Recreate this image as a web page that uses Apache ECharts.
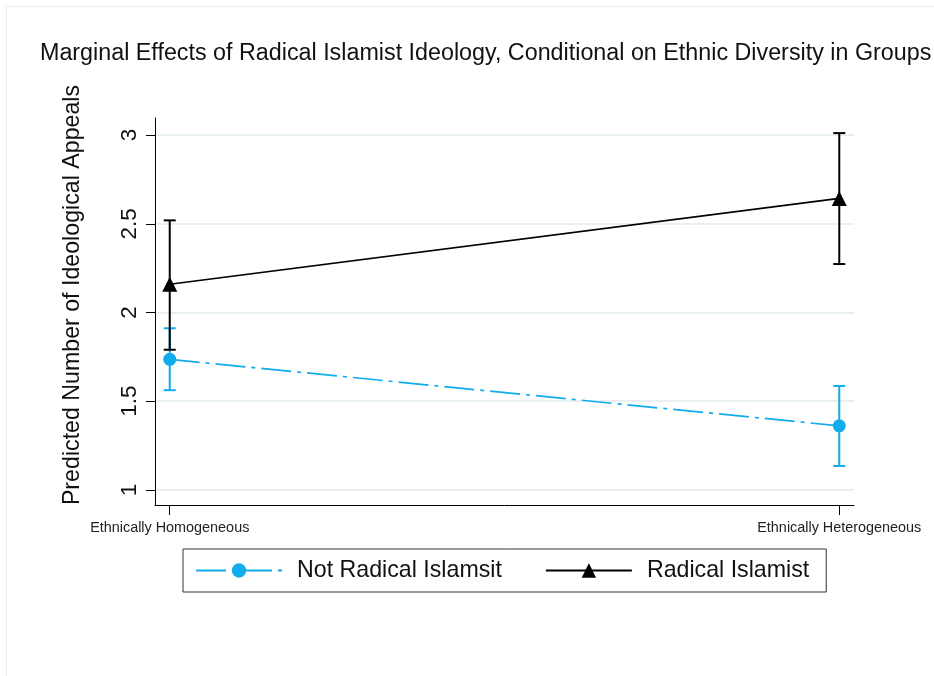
<!DOCTYPE html>
<html>
<head>
<meta charset="utf-8">
<script src="https://cdn.jsdelivr.net/npm/echarts@6/dist/echarts.min.js"></script>
<style>
html,body{margin:0;padding:0;background:#fff;}
#chart{width:934px;height:676px;}
</style>
</head>
<body>
<div id="chart"></div>
<script>
// Data
var categories = ['Ethnically Homogeneous', 'Ethnically Heterogeneous'];
var seriesNames = ['Not Radical Islamsit', 'Radical Islamist'];
var notRadical = [1.736, 1.361];
var notRadicalLo = [1.562, 1.135];
var notRadicalHi = [1.911, 1.586];
var radical = [2.159, 2.643];
var radicalLo = [1.790, 2.273];
var radicalHi = [2.519, 3.011];
var yTicks = [1, 1.5, 2, 2.5, 3];

var BLUE = '#10acec';
var BLACK = '#000000';
var FONT = "'Liberation Sans', Arial, sans-serif";

function pts(vals) { return vals.map(function (v, i) { return [i, v]; }); }
function bars(lo, hi) { return lo.map(function (v, i) { return [i, v, hi[i]]; }); }

function errRender(color) {
  return function (params, api) {
    var x = api.value(0);
    var a = api.coord([x, api.value(1)]);
    var b = api.coord([x, api.value(2)]);
    var w = 6;
    var st = { stroke: color, lineWidth: 2 };
    return {
      type: 'group',
      children: [
        { type: 'line', shape: { x1: a[0], y1: a[1], x2: b[0], y2: b[1] }, style: st },
        { type: 'line', shape: { x1: a[0] - w, y1: a[1], x2: a[0] + w, y2: a[1] }, style: st },
        { type: 'line', shape: { x1: b[0] - w, y1: b[1], x2: b[0] + w, y2: b[1] }, style: st }
      ]
    };
  };
}

var chart = echarts.init(document.getElementById('chart'), null, { renderer: 'canvas' });
chart.setOption({
  backgroundColor: '#ffffff',
  animation: false,
  title: {
    text: 'Marginal Effects of Radical Islamist Ideology, Conditional on Ethnic Diversity in Groups',
    left: 40,
    top: 42,
    padding: 0,
    textStyle: { fontFamily: FONT, fontSize: 23.3, fontWeight: 'normal', color: '#111' }
  },
  graphic: [
    {
      type: 'rect', silent: true, z: -10,
      shape: { x: 6.5, y: 6.5, width: 1000, height: 1000 },
      style: { fill: 'none', stroke: '#e6eef1', lineWidth: 1 }
    },
    {
      type: 'text', x: 73, y: 295, rotation: Math.PI / 2,
      style: {
        text: 'Predicted Number of Ideological Appeals',
        fontFamily: FONT, fontSize: 23.2, fill: '#111',
        align: 'center', verticalAlign: 'middle'
      }
    }
  ],
  legend: {
    left: 183,
    top: 549,
    orient: 'horizontal',
    borderColor: '#333',
    borderWidth: 1,
    padding: [9, 17, 9, 12],
    itemGap: 43,
    itemWidth: 86,
    itemHeight: 18,
    data: seriesNames,
    textStyle: { fontFamily: FONT, fontSize: 23.2, color: '#111', padding: [0, 0, 0, 10], lineHeight: 25 }
  },
  grid: { left: 155, right: 80, top: 118, bottom: 171 },
  xAxis: {
    type: 'value',
    min: -0.022,
    max: 1.022,
    axisLine: { show: true, onZero: false, lineStyle: { color: '#000', width: 1 } },
    axisTick: { show: true, length: 10, customValues: [0, 1], lineStyle: { color: '#000', width: 1 } },
    axisLabel: {
      customValues: [0, 1],
      margin: 16,
      fontFamily: FONT, fontSize: 14.4, color: '#222',
      formatter: function (v) { return categories[Math.round(v)]; }
    },
    splitLine: { show: false }
  },
  yAxis: {
    type: 'value',
    min: 0.915,
    max: 3.096,
    axisLine: { show: true, onZero: false, lineStyle: { color: '#000', width: 1 } },
    axisTick: { show: true, length: 9, customValues: yTicks, lineStyle: { color: '#000', width: 1 } },
    axisLabel: {
      customValues: yTicks,
      rotate: 90,
      margin: 14,
      fontFamily: FONT, fontSize: 22.5, color: '#111',
      formatter: function (v) { return String(v); }
    },
    splitLine: { show: true, lineStyle: { color: '#e8f0f2', width: 2 } }
  },
  series: [
    {
      name: seriesNames[0],
      type: 'line',
      data: pts(notRadical),
      color: BLUE,
      symbol: 'circle',
      symbolSize: 13,
      lineStyle: { color: BLUE, width: 1.7, type: [30, 6, 4, 6] },
      itemStyle: { color: BLUE },
      z: 3
    },
    {
      name: seriesNames[1],
      type: 'line',
      data: pts(radical),
      color: BLACK,
      symbol: 'triangle',
      symbolSize: 15,
      lineStyle: { color: BLACK, width: 1.7 },
      itemStyle: { color: BLACK },
      z: 4
    },
    {
      type: 'custom',
      name: 'errNR',
      renderItem: errRender(BLUE),
      data: bars(notRadicalLo, notRadicalHi),
      z: 2
    },
    {
      type: 'custom',
      name: 'errR',
      renderItem: errRender(BLACK),
      data: bars(radicalLo, radicalHi),
      z: 2
    }
  ]
});
</script>
</body>
</html>
